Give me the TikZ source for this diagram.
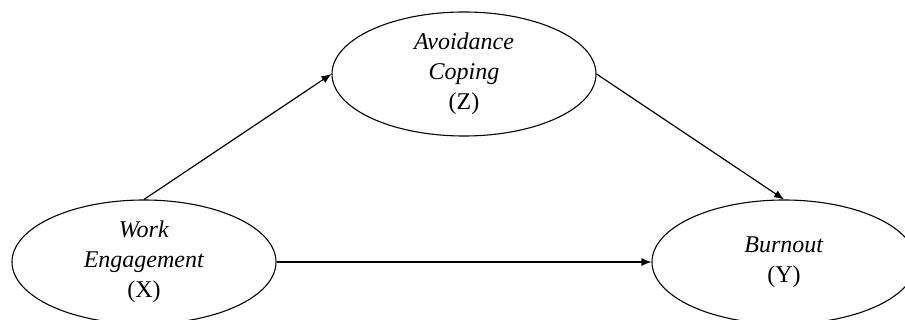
\documentclass[tikz,border=0pt]{standalone}
\usepackage{fontspec}
\setmainfont{Liberation Serif}
\usetikzlibrary{shapes.geometric,arrows.meta}
\begin{document}
\begin{tikzpicture}[x=0.5pt,y=-0.5pt,
  construct/.style={draw=black, line width=0.55pt, ellipse, inner sep=0pt,
    minimum width=132pt, minimum height=62pt, align=center,
    font=\fontsize{12pt}{15pt}\selectfont},
  path/.style={draw=black, line width=0.6pt, -{Latex[length=5pt,width=4pt]}}]
  \clip (0,0) rectangle (905,320);
  \useasboundingbox (0,0) rectangle (905,320);
  \node[construct] (z) at (464,74) {\textit{Avoidance}\\\textit{Coping}\\(Z)};
  \node[construct] (x) at (144,262) {\textit{Work}\\\textit{Engagement}\\(X)};
  \node[construct] (y) at (784,262) {\textit{Burnout}\\(Y)};
  \draw[path] (x.north) -- (z.west);
  \draw[path] (z.east) -- (y.north);
  \draw[path] (x.east) -- (y.west);
\end{tikzpicture}
\end{document}
